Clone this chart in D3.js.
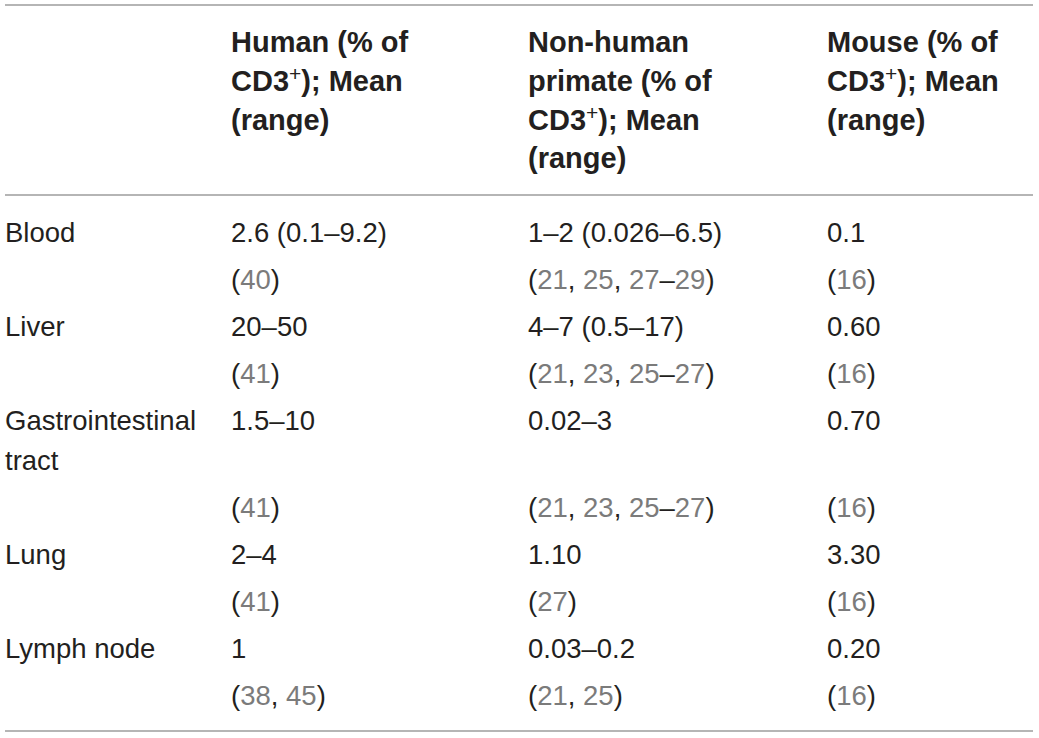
<!DOCTYPE html>
<html>
    <head>
        <title>CD3+ table</title>
        <script src="https://d3js.org/d3.v7.min.js"></script>
        <meta charset="UTF-8">
        <style>
            body { margin: 0; background: #fff; }
        </style>
    </head>
    <body>
        <script>
            var w = 1039;
            var h = 738;

            // table content
            var headers = [
                [],
                ["Human (% of", "CD3^+); Mean", "(range)"],
                ["Non-human", "primate (% of", "CD3^+); Mean", "(range)"],
                ["Mouse (% of", "CD3^+); Mean", "(range)"]
            ];
            var tissues = [["Blood"], ["Liver"], ["Gastrointestinal", "tract"], ["Lung"], ["Lymph node"]];
            var human = ["2.6 (0.1–9.2)", "20–50", "1.5–10", "2–4", "1"];
            var humanRefs = ["(40)", "(41)", "(41)", "(41)", "(38, 45)"];
            var primate = ["1–2 (0.026–6.5)", "4–7 (0.5–17)", "0.02–3", "1.10", "0.03–0.2"];
            var primateRefs = ["(21, 25, 27–29)", "(21, 23, 25–27)", "(21, 23, 25–27)", "(27)", "(21, 25)"];
            var mouse = ["0.1", "0.60", "0.70", "3.30", "0.20"];
            var mouseRefs = ["(16)", "(16)", "(16)", "(16)", "(16)"];

            var textColor = "#231f20";
            var refColor = "#7b7b7b";
            var ruleColor = "#9d9d9d";
            var bodySize = 27.5;
            var headSize = 29;
            var lineStep = 47;   // distance between value line and ref line
            var wrapStep = 40;   // extra line inside a wrapped cell
            var headStep = 38.8;

            var svg = d3.select("body")
                    .append("svg")
                    .attr("width", w)
                    .attr("height", h)
                    .style("font-family", "'Liberation Sans', Arial, Helvetica, sans-serif");

            var xcol = d3.scaleOrdinal()
                    .domain([0, 1, 2, 3])
                    .range([5, 231, 528, 827]);

            var yhead = d3.scaleLinear().domain([0, 1]).range([52, 52 + headStep]);

            // rules
            var rules = [5, 195, 731];
            svg.selectAll("line.rule")
                    .data(rules)
                    .enter()
                    .append("line")
                    .attr("class", "rule")
                    .attr("x1", 5)
                    .attr("x2", 1033)
                    .attr("y1", function (d) { return d; })
                    .attr("y2", function (d) { return d; })
                    .attr("stroke", ruleColor)
                    .attr("stroke-width", 1.6);

            // header
            headers.forEach(function (lines, c) {
                var t = svg.append("text")
                        .attr("font-size", headSize)
                        .attr("font-weight", "bold")
                        .attr("fill", textColor);
                lines.forEach(function (line, i) {
                    var parts = line.split("^+");
                    t.append("tspan")
                            .attr("x", xcol(c))
                            .attr("y", yhead(i))
                            .text(parts[0]);
                    if (parts.length > 1) {
                        t.append("tspan")
                                .attr("dy", -10)
                                .attr("font-size", 21)
                                .attr("font-weight", "normal")
                                .text("+");
                        t.append("tspan")
                                .attr("dy", 10)
                                .text(parts[1]);
                    }
                });
            });

            // body rows: compute each row's first baseline from the line counts
            var rowStart = [];
            var y0 = 242;
            tissues.forEach(function (t) {
                rowStart.push(y0);
                y0 += (t.length - 1) * wrapStep + 2 * lineStep;
            });
            var ybody = d3.scaleLinear().domain([0, 1]).range([0, lineStep]);

            function drawRef(x, y, s) {
                var t = svg.append("text")
                        .attr("x", x)
                        .attr("y", y)
                        .attr("font-size", bodySize)
                        .attr("fill", textColor);
                // numbers grey, punctuation dark
                var tokens = s.match(/\d+|[^\d]+/g);
                tokens.forEach(function (tok) {
                    t.append("tspan")
                            .attr("fill", /^\d+$/.test(tok) ? refColor : textColor)
                            .text(tok);
                });
            }

            tissues.forEach(function (lines, r) {
                var base = rowStart[r];
                var t = svg.append("text")
                        .attr("font-size", bodySize)
                        .attr("fill", textColor);
                lines.forEach(function (line, i) {
                    t.append("tspan")
                            .attr("x", xcol(0))
                            .attr("y", base + i * wrapStep)
                            .text(line);
                });
                var refY = base + (lines.length - 1) * wrapStep + ybody(1);
                [[human, humanRefs], [primate, primateRefs], [mouse, mouseRefs]].forEach(function (col, c) {
                    svg.append("text")
                            .attr("x", xcol(c + 1))
                            .attr("y", base)
                            .attr("font-size", bodySize)
                            .attr("fill", textColor)
                            .text(col[0][r]);
                    drawRef(xcol(c + 1), refY, col[1][r]);
                });
            });
        </script>
    </body>
</html>
